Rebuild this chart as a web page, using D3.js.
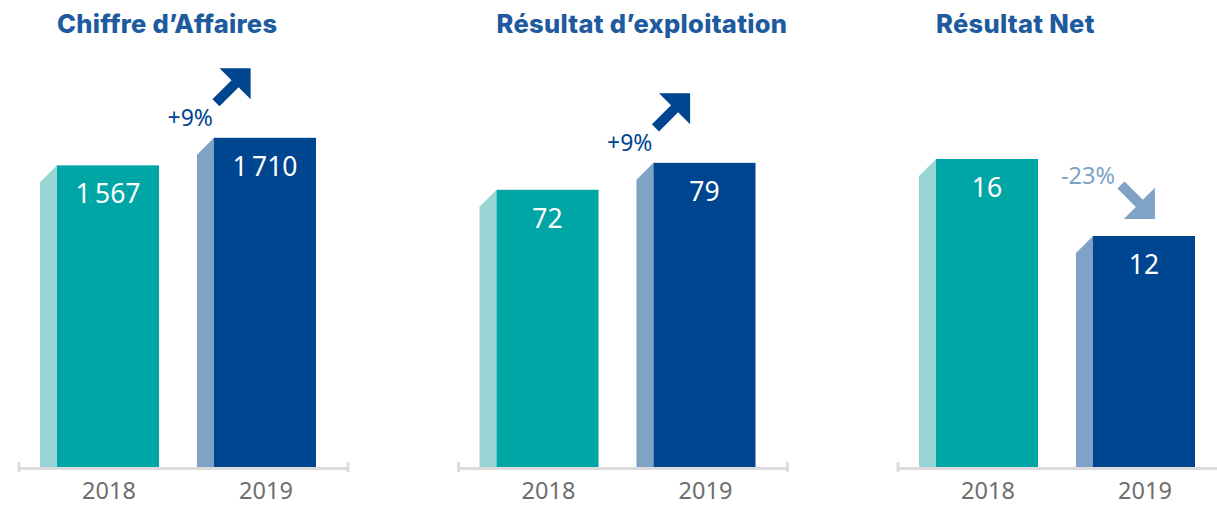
<!DOCTYPE html>
<html><head><meta charset="utf-8">
<script src="https://cdn.jsdelivr.net/npm/d3@7"></script>
<style>
html,body{margin:0;padding:0;background:#fff;}
svg{display:block;}
</style></head>
<body>
<svg id="chart" width="1217" height="506"></svg>
<script>
// ---- data ----
const categories = ["2018", "2019"];
const panelTitles = ["Chiffre d’Affaires", "Résultat d’exploitation", "Résultat Net"];
const values2018 = [1567, 72, 16];
const values2019 = [1710, 79, 12];
const changeLabels = ["+9%", "+9%", "-23%"];
const domainMax = [2000, 100, 20];

// ---- style ----
const frontColors = ["#00a6a6", "#00458f"];
const sideColors = ["#99d4d5", "#80a2c6"];
const titleColor = "#1d5a9e";
const upColor = "#00458f";
const downColor = "#80a2c6";

const svg = d3.select("#chart");
const baseY = 467;
const depth = 17;
const panelW = 330;
const panelX = d3.scaleLinear().domain([0, 1]).range([19, 458.5]);
const x = d3.scaleBand().domain(categories).range([38, 297]).paddingInner(0.35).paddingOuter(0);
const fmt = d3.formatLocale({decimal: ",", thousands: "\u2009", grouping: [3], currency: ["", "€"]}).format(",d");

function arrowPath(L, hw, hl, sw) {
  // pointing along +x, tail center at origin
  return `M0,${-sw/2} L${L-hl},${-sw/2} L${L-hl},${-hw} L${L},0 L${L-hl},${hw} L${L-hl},${sw/2} L0,${sw/2} Z`;
}

panelTitles.forEach((title, i) => {
  const g = svg.append("g").attr("transform", `translate(${panelX(i)},0)`);
  const y = d3.scaleLinear().domain([0, domainMax[i]]).range([baseY, baseY - 385]);
  const vals = [values2018[i], values2019[i]];

  // title
  g.append("text")
    .attr("x", x(categories[0]))
    .attr("y", 33)
    .attr("fill", titleColor)
    .attr("font-family", "Inter, 'Noto Sans', sans-serif")
    .attr("font-weight", 800)
    .attr("font-size", 25.5)
    .attr("letter-spacing", 0.3)
    .text(title);

  // axis line
  const axisEnd = Math.min(panelW, 1217 - panelX(i) + 20);
  g.append("line").attr("x1", 0).attr("x2", axisEnd).attr("y1", baseY + 1.5).attr("y2", baseY + 1.5)
    .attr("stroke", "#dcdcdc").attr("stroke-width", 3);
  g.append("line").attr("x1", 0).attr("x2", 0).attr("y1", baseY - 5).attr("y2", baseY + 5)
    .attr("stroke", "#dcdcdc").attr("stroke-width", 3);
  if (i < 2) {
    g.append("line").attr("x1", panelW - 1).attr("x2", panelW - 1).attr("y1", baseY - 5).attr("y2", baseY + 5)
      .attr("stroke", "#dcdcdc").attr("stroke-width", 3);
  }

  categories.forEach((c, j) => {
    const x0 = x(c), w = x.bandwidth(), top = y(vals[j]);
    // side face
    g.append("path")
      .attr("d", `M${x0 - depth},${top + depth} L${x0},${top} L${x0},${baseY} L${x0 - depth},${baseY} Z`)
      .attr("fill", sideColors[j]);
    // front face
    g.append("rect").attr("x", x0).attr("y", top).attr("width", w).attr("height", baseY - top)
      .attr("fill", frontColors[j]);
    // value label
    g.append("text")
      .attr("x", x0 + w / 2).attr("y", top + 38)
      .attr("text-anchor", "middle")
      .attr("fill", "#fff")
      .attr("font-family", "'Noto Sans', sans-serif")
      .attr("font-size", 26.5)
      .text(fmt(vals[j]));
    // year label
    g.append("text")
      .attr("x", x0 + w / 2 + 1).attr("y", 499)
      .attr("text-anchor", "middle")
      .attr("fill", "#6e6e6e")
      .attr("font-family", "'Noto Sans', sans-serif")
      .attr("font-size", 23.5)
      .text(c);
  });

  // change annotation
  const fl = x(categories[1]);
  const top2 = y(vals[1]);
  const up = vals[1] >= vals[0];
  const col = up ? upColor : downColor;
  if (up) {
    g.append("text").attr("x", fl - 1).attr("y", top2 - 12).attr("text-anchor", "end")
      .attr("fill", col).attr("font-family", "'Noto Sans', sans-serif").attr("font-size", 23)
      .text(changeLabels[i]);
    g.append("path").attr("d", arrowPath(49, 22, 22, 10))
      .attr("transform", `translate(${fl + 2},${top2 - 35}) rotate(-45)`)
      .attr("fill", col);
  } else {
    g.append("text").attr("x", fl + 22).attr("y", top2 - 52).attr("text-anchor", "end")
      .attr("fill", col).attr("font-family", "'Noto Sans', sans-serif").attr("font-size", 23.5)
      .text(changeLabels[i]);
    g.append("path").attr("d", arrowPath(48, 22, 22, 10))
      .attr("transform", `translate(${fl + 28},${top2 - 51}) rotate(45)`)
      .attr("fill", col);
  }
});
</script>
</body></html>
